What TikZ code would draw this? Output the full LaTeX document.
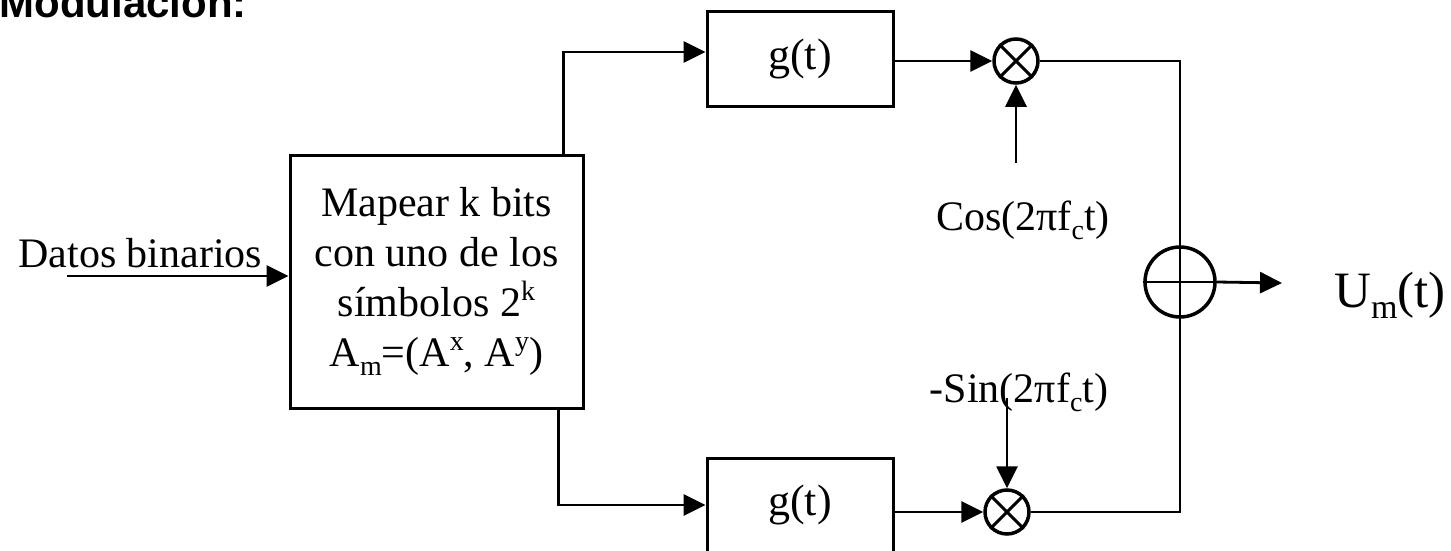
\documentclass[tikz,border=0pt]{standalone}
\usepackage{fontspec}
\setmainfont{Liberation Serif}
\newfontfamily\titlefont{Liberation Sans}
\usetikzlibrary{arrows.meta}
\newcommand\mysub[1]{\raisebox{-0.22em}{\fontsize{28}{28}\selectfont #1}}
\newcommand\mysup[1]{\raisebox{0.38em}{\fontsize{28}{28}\selectfont #1}}
\newcommand\mysubb[1]{\raisebox{-0.22em}{\fontsize{34}{34}\selectfont #1}}
\begin{document}
\begin{tikzpicture}[x=1pt,y=-1pt, line width=2.8pt,
  arr/.style={-{Triangle[length=22pt,width=21pt]}},
  blk/.style={draw, line width=3pt, inner sep=0, minimum width=186pt, minimum height=94pt, font=\fontsize{44}{50}\selectfont},
  mix/.style={draw, circle, line width=3.5pt, inner sep=0, minimum size=44pt},
  lbl/.style={inner sep=0, font=\fontsize{42}{50}\selectfont}]
\useasboundingbox (0,0) rectangle (1451,551);

\node[anchor=base west, inner sep=0, font=\titlefont\bfseries\fontsize{42}{42}\selectfont] (title) at (-2,18) {Modulación:};

\node[lbl, anchor=base west] (datos) at (17,267) {Datos binarios};
\coordinate (inp) at (67,276);

\node[draw, line width=3pt, minimum width=293pt, minimum height=253pt, inner sep=0, align=center, font=\fontsize{42}{50}\selectfont] (map) at (436.5,281.5)
  {Mapear k bits\\con uno de los\\símbolos 2\mysup{k}\\A\mysub{m}=(A\mysup{x}, A\mysup{y})};

\node[blk] (g1) at (800,59) {g(t)};
\node[blk] (g2) at (800,505) {g(t)};

\node[mix] (m1) at (1016,61) {};
\node[mix] (m2) at (1007,512) {};
\draw[line width=3pt] (m1.north west) -- (m1.south east) (m1.north east) -- (m1.south west);
\draw[line width=3pt] (m2.north west) -- (m2.south east) (m2.north east) -- (m2.south west);

\node[mix, minimum size=70pt] (add) at (1180,282) {};
\draw[line width=2.6pt] (add.north) -- (add.south) (add.west) -- (add.east);

\node[lbl, anchor=base] (cos) at (1023,230) {Cos(2πf\mysub{c}t)};
\node[lbl, anchor=base] (sin) at (1019,402) {-Sin(2πf\mysub{c}t)};
\node[inner sep=0, anchor=base west, font=\fontsize{51}{51}\selectfont] (um) at (1333,307) {U\mysubb{m}(t)};

\coordinate (cs) at (1016,163);
\coordinate (ss) at (1007,398);
\coordinate (out) at (1282,283);

% connectors
\draw[arr] (inp) -- (inp -| map.west);
\draw[arr] ([xshift=-21pt]map.north east) |- ([yshift=7pt]g1.west);
\draw[arr] ([xshift=-26pt]map.south east) |- (g2.west);
\draw[arr] (g1.east |- m1.west) -- (m1.west);
\draw[arr] (g2.east |- m2.west) -- (m2.west);
\draw[arr] (cs) -- (m1.south);
\draw[arr] (ss) -- (m2.north);
\draw (m1.east) -| (add.north);
\draw (m2.east) -| (add.south);
\draw[arr] (add.east) -- (out);
\end{tikzpicture}
\end{document}
